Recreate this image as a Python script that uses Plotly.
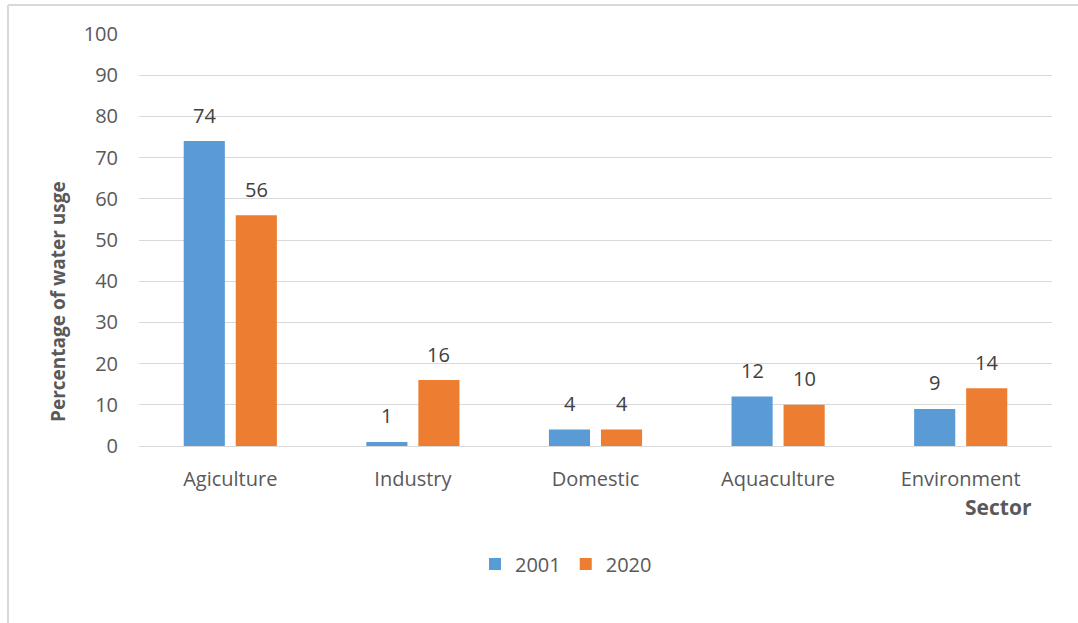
import plotly.graph_objects as go

sectors = ["Agiculture", "Industry", "Domestic", "Aquaculture", "Environment"]
usage_2001 = [74, 1, 4, 12, 9]
usage_2020 = [56, 16, 4, 10, 14]
series_names = ["2001", "2020"]
y_ticks = [0, 10, 20, 30, 40, 50, 60, 70, 80, 90, 100]

BLUE = "#5B9BD5"
ORANGE = "#ED7D31"
TEXT = "#595959"
GRID = "#D9D9D9"
FONT = "'Open Sans', sans-serif"

W, H = 1078, 623
L, R, T, B = 139, 26, 34, 177
plot_w = W - L - R
plot_h = H - T - B


def px_x(p):
    return (p - L) / plot_w


def px_y(p):
    return (H - B - p) / plot_h


fig = go.Figure()
for name, vals, col in [(series_names[0], usage_2001, BLUE), (series_names[1], usage_2020, ORANGE)]:
    fig.add_trace(go.Bar(x=sectors, y=vals, name=name, marker=dict(color=col, line=dict(width=0))))

# value labels above each bar
offset = 26
for vals, shift in [(usage_2001, -offset), (usage_2020, offset)]:
    for s, v in zip(sectors, vals):
        fig.add_annotation(x=s, y=v, text=str(v), showarrow=False, xshift=shift,
                           yshift=26, font=dict(size=20, color="#404040", family=FONT))

# axis titles
fig.add_annotation(x=px_x(998), y=px_y(507), xref="paper", yref="paper", text="<b>Sector</b>",
                   xanchor="center", yanchor="middle",
                   showarrow=False, font=dict(size=21, color=TEXT, family=FONT))
fig.add_annotation(x=px_x(58), y=px_y(302), xref="paper", yref="paper",
                   text="<b>Percentage of water usge</b>", textangle=-90,
                   xanchor="center", yanchor="middle",
                   showarrow=False, font=dict(size=19, color=TEXT, family=FONT))

# chart frame
frame = dict(color=GRID, width=2)
fig.add_shape(type="line", xref="paper", yref="paper", x0=px_x(8), x1=px_x(1080),
              y0=px_y(5), y1=px_y(5), line=frame)
fig.add_shape(type="line", xref="paper", yref="paper", x0=px_x(8), x1=px_x(8),
              y0=px_y(5), y1=px_y(625), line=frame)

fig.update_layout(
    width=W, height=H,
    margin=dict(l=L, r=R, t=T, b=B),
    paper_bgcolor="white", plot_bgcolor="white",
    barmode="group", bargap=0.43, bargroupgap=0.21,
    font=dict(family=FONT, size=20, color=TEXT),
    legend=dict(orientation="h", x=px_x(566), xanchor="center", y=px_y(564), yanchor="middle",
                font=dict(size=20, color=TEXT), itemwidth=30, traceorder="normal"),
    xaxis=dict(showgrid=False, showline=True, linecolor=GRID, linewidth=1, ticks="",
               tickfont=dict(size=20, color=TEXT), ticklabelstandoff=15),
    yaxis=dict(range=[0, 100], tickvals=y_ticks, showgrid=True, gridcolor=GRID, gridwidth=1,
               zeroline=False, showline=False, ticks="", tickfont=dict(size=20, color=TEXT),
               ticklabelstandoff=20),
)

fig.write_html("out.html")
